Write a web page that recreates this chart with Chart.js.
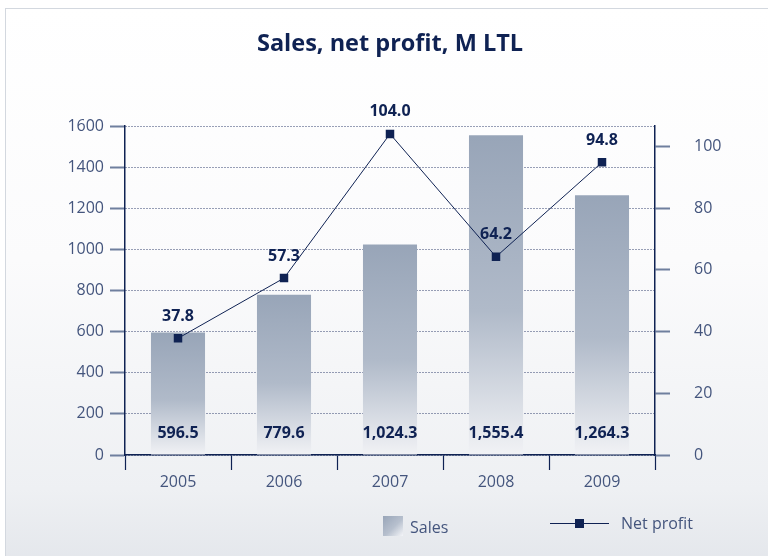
<!DOCTYPE html>
<html>
<head>
<meta charset="utf-8">
<script src="https://cdn.jsdelivr.net/npm/chart.js@4.4.1/dist/chart.umd.min.js"></script>
<style>
  html, body { margin: 0; padding: 0; background: #ffffff; }
  #wrap { position: relative; width: 768px; height: 556px; overflow: hidden; }
  #frame { position: absolute; left: 5px; top: 8px; width: 800px; height: 600px;
    border: 1.5px solid #d3d8df;
    background: linear-gradient(to bottom, #ffffff 0px, #fbfbfc 250px, #eef0f3 480px, #e3e6eb 560px); }
  canvas { position: absolute; left: 0; top: 0; }
  .leg { position: absolute; font-family: "Open Sans", sans-serif; font-size: 16px; color: #44557d; }
  #sw { position: absolute; left: 383px; top: 516px; width: 20px; height: 20px;
    background: linear-gradient(135deg, #98a5b8 0%, #b7c0ce 55%, #f4f5f8 100%); }
  #ln { position: absolute; left: 550px; top: 523px; width: 59px; height: 1px; background: #0f2253; }
  #mk { position: absolute; left: 575px; top: 519px; width: 9px; height: 9px; background: #0f2253; }
</style>
</head>
<body>
<div id="wrap">
  <div id="frame"></div>
  <canvas id="c" width="768" height="556"></canvas>
  <div id="sw"></div>
  <div class="leg" style="left:410px; top:516px;">Sales</div>
  <div id="ln"></div><div id="mk"></div>
  <div class="leg" style="left:621px; top:512px;">Net profit</div>
</div>
<script>
const categories = ['2005', '2006', '2007', '2008', '2009'];
const sales = [596.5, 779.6, 1024.3, 1555.4, 1264.3];
const netProfit = [37.8, 57.3, 104.0, 64.2, 94.8];
const salesLabels = ['596.5', '779.6', '1,024.3', '1,555.4', '1,264.3'];
const profitLabels = ['37.8', '57.3', '104.0', '64.2', '94.8'];
const leftTicks = [0, 200, 400, 600, 800, 1000, 1200, 1400, 1600];
const rightTicks = [0, 20, 40, 60, 80, 100];

const NAVY = '#0f2253';
const TICKTXT = '#44557d';

const labelPlugin = {
  id: 'valueLabels',
  afterDatasetsDraw(chart) {
    const c = chart.ctx;
    c.save();
    c.font = 'bold 16px "Open Sans", sans-serif';
    c.fillStyle = NAVY;
    c.textAlign = 'center';
    c.textBaseline = 'middle';
    const barMeta = chart.getDatasetMeta(0);
    const base = chart.scales.y.getPixelForValue(0);
    barMeta.data.forEach((el, i) => { c.fillText(salesLabels[i], el.x, base - 22); });
    const lineMeta = chart.getDatasetMeta(1);
    lineMeta.data.forEach((el, i) => { c.fillText(profitLabels[i], el.x, el.y - 22); });
    c.restore();
  }
};

const barGradient = (context) => {
  const chart = context.chart;
  const area = chart.chartArea;
  if (!area || context.type !== 'data') return '#a9b3c3';
  const ys = chart.scales.y;
  const top = ys.getPixelForValue(sales[context.dataIndex]);
  const base = ys.getPixelForValue(0);
  const g = chart.ctx.createLinearGradient(0, top, 0, base);
  g.addColorStop(0, '#98a5b8');
  g.addColorStop(0.55, '#b0bac9');
  g.addColorStop(1, '#f1f2f5');
  return g;
};

new Chart(document.getElementById('c'), {
  data: {
    labels: categories,
    datasets: [
      { type: 'bar', label: 'Sales', data: sales, yAxisID: 'y', order: 2,
        backgroundColor: barGradient, borderWidth: 0,
        barPercentage: 0.51, categoryPercentage: 1.0 },
      { type: 'line', label: 'Net profit', data: netProfit, yAxisID: 'y1', order: 1,
        borderColor: NAVY, borderWidth: 1, backgroundColor: NAVY,
        pointStyle: 'rect', pointRadius: 6, pointBorderWidth: 0, pointBackgroundColor: NAVY,
        tension: 0 }
    ]
  },
  options: {
    responsive: false,
    animation: false,
    layout: { padding: { top: 0, bottom: 0, left: 0, right: 0 } },
    plugins: {
      legend: { display: false },
      tooltip: { enabled: false },
      title: { display: true, text: 'Sales, net profit, M LTL', color: NAVY, fullSize: false,
        font: { family: '"Open Sans", sans-serif', size: 23.5, weight: 'bold' },
        padding: { top: 30, bottom: 68 } }
    },
    scales: {
      x: {
        grid: { display: true, drawOnChartArea: false, drawTicks: true, tickLength: 15,
          tickColor: NAVY, tickWidth: 1.2, offset: true },
        border: { display: true, color: NAVY, width: 1.5 },
        ticks: { color: TICKTXT, font: { family: '"Open Sans", sans-serif', size: 16 }, padding: 3 },
        afterFit(s) { s.height = 101; }
      },
      y: {
        position: 'left', min: 0, max: 1600,
        afterBuildTicks(s) { s.ticks = leftTicks.map(v => ({ value: v })); },
        ticks: { color: TICKTXT, font: { family: '"Open Sans", sans-serif', size: 16 }, padding: 6,
          callback: (v) => String(v) },
        grid: { color: 'rgba(30,45,95,0.9)', lineWidth: 1, tickLength: 15,
          tickColor: '#6f7f9e', tickWidth: 2 },
        border: { display: true, color: NAVY, width: 1.5, dash: [1, 2] },
        afterFit(s) { s.width = 125; }
      },
      y1: {
        position: 'right', min: 0, max: 106.5,
        afterBuildTicks(s) { s.ticks = rightTicks.map(v => ({ value: v })); },
        ticks: { color: TICKTXT, font: { family: '"Open Sans", sans-serif', size: 16 }, padding: 24,
          callback: (v) => String(v) },
        grid: { drawOnChartArea: false, tickLength: 15, tickColor: '#6f7f9e', tickWidth: 2 },
        border: { display: true, color: NAVY, width: 1.5 },
        afterFit(s) { s.width = 113; }
      }
    }
  },
  plugins: [labelPlugin]
});
</script>
</body>
</html>
